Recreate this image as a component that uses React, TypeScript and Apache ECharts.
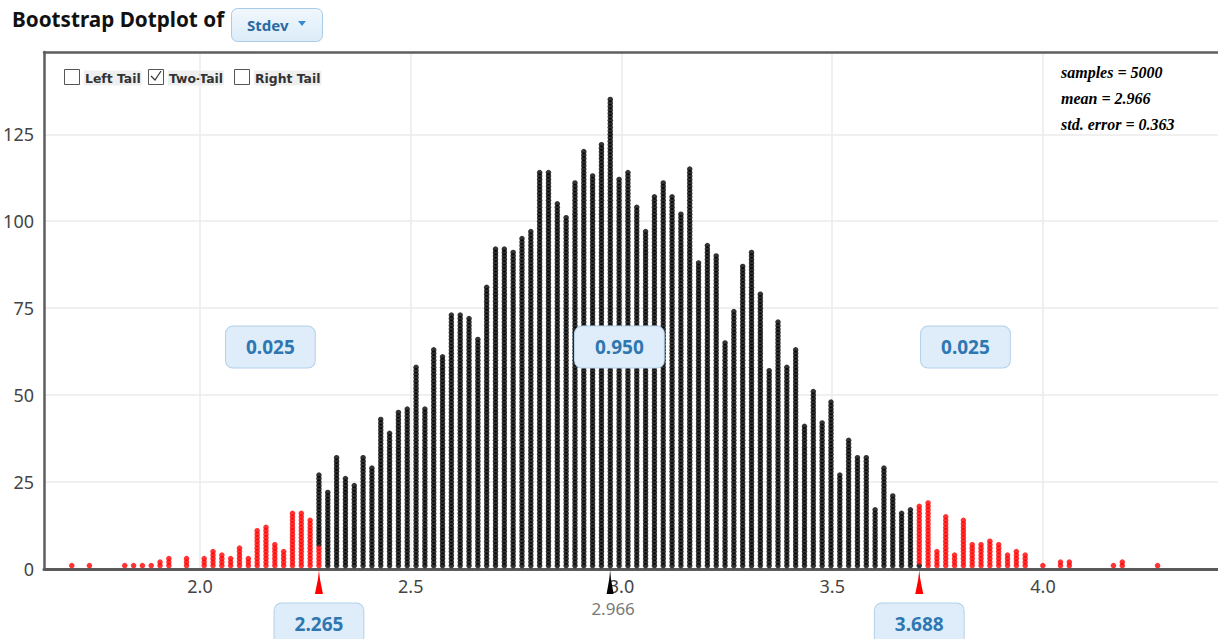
import React, { useEffect, useRef } from "react";
import * as echarts from "echarts";

// ---- data ----
const binStart = 1.6958; // centre of the first dot column
const binWidth = 0.020944; // spacing of dot columns
const binCounts = [
  1, 0, 1, 0, 0, 0, 1, 1, 1, 1, 2, 3, 0, 3, 0, 3, 5, 4, 3, 6, 3, 11, 12, 7, 5, 16, 16, 14,
  27,
  22, 32, 26, 24, 32, 29, 43, 39, 45, 46, 58, 46, 63, 61, 73, 73, 72, 66, 81, 92, 92, 91, 95, 97,
  114, 114, 105, 101, 111, 120, 113, 122, 135, 112,
  114, 104, 97, 107, 111, 107, 102, 115, 88, 93, 90, 65, 74, 87, 91, 79, 57, 71, 58, 63, 41, 51,
  42, 48, 27, 37, 32, 32, 17, 29, 21, 16, 17,
  18,
  19, 5, 15, 4, 14, 7, 7, 8, 7, 4, 5, 4, 0, 1, 0, 2, 2, 0, 0, 0, 0, 1, 2, 0, 0, 0, 1,
];
const leftTailDots = 125;
const rightTailDots = 125;
const cutLabels = ["2.265", "3.688"];
const meanLabel = "2.966";
const meanMarkerX = 2.973;
const propLabels = ["0.025", "0.950", "0.025"];
const propX = [2.167, 2.995, 3.816];
const propY = 63.8;
const xTickValues = [2.0, 2.5, 3.0, 3.5, 4.0];
const yTickValues = [0, 25, 50, 75, 100, 125];
const statLines = ["samples = 5000", "mean = 2.966", "std. error = 0.363"];
const tailOptions = ["Left Tail", "Two-Tail", "Right Tail"];
const statName = "Stdev";

export default function App() {
  const ref = useRef<HTMLDivElement>(null);

  useEffect(() => {
    if (!ref.current) return;
    const chart = echarts.init(ref.current, undefined, { renderer: "svg" });

    const total = binCounts.reduce((a, b) => a + b, 0);
    const redDots: number[][] = [];
    const blackDots: number[][] = [];
    let n = 0;
    let leftCutBin = 0;
    let rightCutBin = 0;
    binCounts.forEach((c, j) => {
      const x = binStart + j * binWidth;
      for (let k = 1; k <= c; k++) {
        if (n === leftTailDots) leftCutBin = j;
        if (n === total - rightTailDots) rightCutBin = j;
        const isRed = n < leftTailDots || n >= total - rightTailDots;
        (isRed ? redDots : blackDots).push([x, k]);
        n++;
      }
    });
    const leftCutX = binStart + leftCutBin * binWidth;
    const rightCutX = binStart + rightCutBin * binWidth;

    const arrowPath = "path://M4,0 L5,9 L8,24 L0,24 L3,9 Z";
    const valueBox = {
      show: true,
      position: "inside",
      backgroundColor: "#deedf9",
      borderColor: "#b3d1e9",
      borderWidth: 1,
      borderRadius: 7,
      padding: [11, 20, 11, 20],
      color: "#2f77b1",
      fontSize: 19,
      fontWeight: "bold",
      fontFamily: "Noto Sans",
    };

    const markData: any[] = [
      {
        coord: [leftCutX, 0],
        symbol: arrowPath,
        symbolSize: [8, 24],
        symbolOffset: [0, 13],
        itemStyle: { color: "#ff0000" },
        label: { show: false },
      },
      {
        coord: [rightCutX, 0],
        symbol: arrowPath,
        symbolSize: [8, 24],
        symbolOffset: [0, 13],
        itemStyle: { color: "#ff0000" },
        label: { show: false },
      },
      {
        coord: [meanMarkerX, 0],
        symbol: arrowPath,
        symbolSize: [7, 24],
        symbolOffset: [0, 13],
        itemStyle: { color: "#000000" },
        label: { show: false },
      },
      {
        coord: [meanMarkerX, 0],
        symbol: "rect",
        symbolSize: 1,
        itemStyle: { color: "rgba(0,0,0,0)" },
        label: {
          show: true,
          position: "inside",
          formatter: meanLabel,
          offset: [3, 39],
          color: "#7a7a7a",
          fontSize: 17,
          fontFamily: "Noto Sans",
        },
      },
      {
        coord: [leftCutX, 0],
        symbol: "rect",
        symbolSize: 1,
        itemStyle: { color: "rgba(0,0,0,0)" },
        label: { ...valueBox, formatter: cutLabels[0], offset: [0, 55] },
      },
      {
        coord: [rightCutX, 0],
        symbol: "rect",
        symbolSize: 1,
        itemStyle: { color: "rgba(0,0,0,0)" },
        label: { ...valueBox, formatter: cutLabels[1], offset: [0, 55] },
      },
      ...propLabels.map((t, i) => ({
        coord: [propX[i], propY],
        symbol: "rect",
        symbolSize: 1,
        itemStyle: { color: "rgba(0,0,0,0)" },
        label: { ...valueBox, formatter: t },
      })),
    ];

    const lightGradient = new echarts.graphic.LinearGradient(0, 0, 0, 1, [
      { offset: 0, color: "#f1f7fc" },
      { offset: 1, color: "#dcecf8" },
    ]);

    const checkboxX = [64, 148, 234];
    const checkLabelX = [84, 168, 254];
    const graphics: any[] = [
      {
        type: "text",
        left: 12,
        top: 8,
        style: {
          text: "Bootstrap Dotplot of",
          fontSize: 20.7,
          fontWeight: "bold",
          fontFamily: "Noto Sans",
          fill: "#111",
        },
      },
      {
        type: "rect",
        shape: { x: 231.5, y: 8.5, width: 91, height: 33, r: 6 },
        style: { fill: lightGradient, stroke: "#a9cbe6", lineWidth: 1 },
      },
      {
        type: "text",
        x: 247,
        y: 25,
        style: {
          text: statName,
          fontSize: 15,
          fontWeight: "bold",
          fontFamily: "Noto Sans",
          fill: "#2a6aa3",
          verticalAlign: "middle",
        },
      },
      {
        type: "polygon",
        shape: { points: [[298, 21], [306, 21], [302, 26]] },
        style: { fill: "#3a8ad0" },
      },
      ...statLines.map((t, i) => ({
        type: "text",
        x: 1061,
        y: 72 + i * 26,
        style: {
          text: t,
          fontSize: 16,
          fontWeight: "bold",
          fontStyle: "italic",
          fontFamily: "Liberation Serif",
          fill: "#000",
          verticalAlign: "middle",
        },
      })),
    ];
    tailOptions.forEach((t, i) => {
      graphics.push({
        type: "rect",
        shape: { x: checkboxX[i] + 0.5, y: 69.5, width: 15, height: 15 },
        style: { fill: "#fff", stroke: "#555", lineWidth: 1 },
      });
      graphics.push({
        type: "text",
        x: checkLabelX[i],
        y: 78,
        style: {
          text: t,
          fontSize: 12.4,
          fontWeight: "bold",
          fontFamily: "DejaVu Sans",
          fill: "#333",
          verticalAlign: "middle",
          backgroundColor: "#efefef",
          padding: [2, 1, 1, 1],
        },
      });
    });
    graphics.push({
      type: "polyline",
      shape: { points: [[151, 76], [155, 80], [161, 71]] },
      style: { stroke: "#333", lineWidth: 1.2, fill: null },
    });

    const frameLine = { color: "#5e5e5e", width: 2.5 };
    const option: any = {
      animation: false,
      backgroundColor: "#ffffff",
      textStyle: { fontFamily: "Noto Sans" },
      grid: {
        left: 44,
        top: 52,
        right: 0,
        bottom: 70,
        show: false,
      },
      xAxis: [
        {
          type: "value",
          min: 1.6299,
          max: 4.4152,
          axisLine: { show: true, onZero: false, lineStyle: { color: "#5a5a5a", width: 3 } },
          axisTick: { show: false, customValues: xTickValues },
          axisLabel: {
            customValues: xTickValues,
            formatter: (v: number) => v.toFixed(1),
            color: "#444",
            fontSize: 18,
            fontFamily: "Noto Sans",
            margin: 8,
          },
          splitLine: { show: true, lineStyle: { color: "#ebebeb", width: 1.5 } },
        },
        {
          type: "value",
          position: "top",
          min: 1.6299,
          max: 4.4152,
          axisLine: { show: true, onZero: false, lineStyle: frameLine },
          axisTick: { show: false },
          axisLabel: { show: false },
          splitLine: { show: false },
        },
      ],
      yAxis: {
        type: "value",
        min: 0,
        max: 148.65,
        axisLine: { show: true, onZero: false, lineStyle: frameLine },
        axisTick: { show: false, customValues: yTickValues },
        axisLabel: {
          customValues: yTickValues,
          color: "#444",
          fontSize: 18,
          fontFamily: "Noto Sans",
          margin: 10,
        },
        splitLine: { show: true, lineStyle: { color: "#ebebeb", width: 1.5 } },
      },
      series: [
        {
          type: "scatter",
          name: "middle",
          data: blackDots,
          symbol: "circle",
          symbolSize: 5.5,
          itemStyle: { color: "#000000" },
          silent: true,
          z: 3,
        },
        {
          type: "scatter",
          name: "tails",
          data: redDots,
          symbol: "circle",
          symbolSize: 5.5,
          itemStyle: { color: "#ff0000" },
          silent: true,
          z: 3,
          markPoint: { silent: true, data: markData, z: 5 },
        },
      ],
      graphic: graphics,
    };

    chart.setOption(option);
    return () => chart.dispose();
  }, []);

  return (
    <div
      ref={ref}
      style={{ position: "fixed", left: 0, top: 0, width: 1218, height: 639, background: "#fff" }}
    />
  );
}
